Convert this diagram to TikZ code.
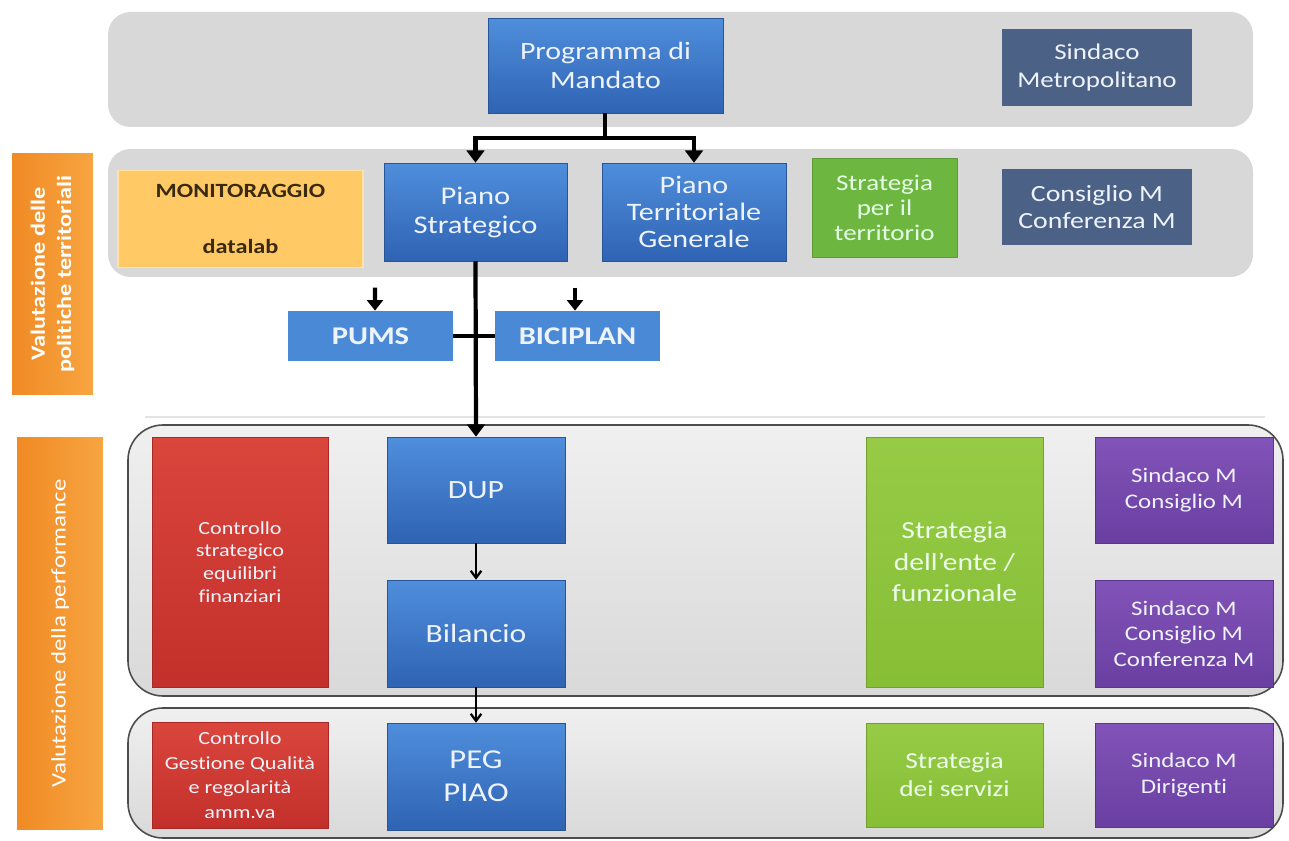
\documentclass[tikz,border=0pt]{standalone}
\usepackage{fontspec}
\setmainfont{Carlito}[FakeStretch=1.2, Ligatures=NoCommon]
\usetikzlibrary{arrows.meta,calc}
\definecolor{bandgray}{HTML}{D8D8D8}
\definecolor{blueT}{HTML}{4F8EDC}
\definecolor{blueB}{HTML}{2F63B3}
\definecolor{lightblue}{HTML}{4A89D6}
\definecolor{slate}{HTML}{4B6286}
\definecolor{greenA}{HTML}{6DB640}
\definecolor{greenT}{HTML}{97CB47}
\definecolor{greenB}{HTML}{86BE35}
\definecolor{redT}{HTML}{DA463C}
\definecolor{redB}{HTML}{C3302B}
\definecolor{purT}{HTML}{8253B8}
\definecolor{purB}{HTML}{6A3FA2}
\definecolor{orT}{HTML}{F7A541}
\definecolor{orB}{HTML}{F08A24}
\definecolor{monfill}{HTML}{FFC966}
\definecolor{monborder}{HTML}{FFE2A6}
\definecolor{montext}{HTML}{3A2A12}
\definecolor{paletext}{HTML}{EEF3FB}
\begin{document}
\begin{tikzpicture}[x=0.02cm,y=-0.02cm,
  box/.style={rectangle, inner sep=2pt, align=center, text=paletext},
  bluebox/.style={box, top color=blueT, bottom color=blueB, draw=blueB!85!black, line width=0.3pt},
  pbox/.style={box, fill=lightblue, font=\bfseries\fontsize{14.5}{17}\selectfont, minimum width=3.3cm, minimum height=1cm},
  slatebox/.style={box, fill=slate, minimum width=3.8cm},
  grnbox/.style={box, fill=greenA, draw=greenA!85!black, line width=0.3pt},
  ygbox/.style={box, top color=greenT, bottom color=greenB, draw=greenB!85!black, line width=0.3pt, minimum width=3.54cm},
  redbox/.style={box, top color=redT, bottom color=redB, draw=redB!85!black, line width=0.3pt, minimum width=3.52cm},
  purbox/.style={box, top color=purT, bottom color=purB, draw=purB!85!black, line width=0.3pt, minimum width=3.56cm},
  sidelabel/.style={rectangle, rotate=90, align=center, text=white, left color=orB, right color=orT},
  band/.style={fill=bandgray, rounded corners=0.45cm},
  obband/.style={top color=gray!12, bottom color=gray!30, draw=black!70, line width=0.9pt, rounded corners=0.7cm},
  thk/.style={line width=2.4pt, black},
  thkarrow/.style={thk, -{Triangle[width=10pt,length=7pt]}},
  thinarrow/.style={line width=1.3pt, black, -{Straight Barb[width=6pt,length=4pt]}}
]
\useasboundingbox (0,0) rectangle (1289,841);
% bands
\fill[band] (108,12) rectangle (1253,127);
\fill[band] (108,149) rectangle (1253,277);
\draw[gray!22, line width=1.2pt] (145,417) -- (1265,417);
\path[obband] (128,425) rectangle (1283,696);
\path[obband] (128,708) rectangle (1283,838);

% side labels
\node[sidelabel, minimum width=4.84cm, minimum height=1.62cm, font=\bfseries\fontsize{11.5}{15}\selectfont] (lab1) at (52.5,274) {Valutazione delle\\politiche territoriali};
\node[sidelabel, minimum width=7.86cm, minimum height=1.72cm, font=\fontsize{11.8}{15}\selectfont] (lab2) at (60,633.5) {Valutazione della performance};

% row 1
\node[bluebox, minimum width=4.7cm, minimum height=1.9cm, font=\fontsize{14.2}{16.5}\selectfont] (prog) at (605.5,65.5) {Programma di\\Mandato};
\node[slatebox, minimum height=1.54cm, font=\fontsize{12.8}{15.5}\selectfont] (sm) at (1097,67.5) {Sindaco\\Metropolitano};

% row 2
\node[box, fill=monfill, draw=monborder, line width=1pt, minimum width=4.9cm, minimum height=1.94cm, text=montext, font=\bfseries\fontsize{11.5}{14}\selectfont] (mon) at (240.5,219) {MONITORAGGIO\\[0.62cm]datalab};
\node[bluebox, minimum width=3.66cm, minimum height=1.96cm, font=\fontsize{14.5}{16.5}\selectfont] (ps) at (475.5,212) {Piano\\Strategico};
\node[bluebox, minimum width=3.68cm, minimum height=1.96cm, font=\fontsize{14.3}{15.4}\selectfont] (pt) at (694,212) {Piano\\Territoriale\\Generale};
\node[grnbox, minimum width=2.9cm, minimum height=1.98cm, font=\fontsize{12.8}{14.2}\selectfont, text=green!10!white] (spt) at (884.5,207.5) {Strategia\\per il\\territorio};
\node[slatebox, minimum height=1.52cm, font=\fontsize{13.2}{15.5}\selectfont] (cc) at (1097,207) {Consiglio M\\Conferenza M};

% PUMS / BICIPLAN
\node[pbox] (pums) at (370.5,336) {PUMS};
\node[pbox] (bici) at (577.5,336) {BICIPLAN};

% band 3
\node[redbox, minimum height=5cm, font=\fontsize{10.5}{13}\selectfont] (cse) at (240,562) {Controllo\\strategico\\equilibri\\finanziari};
\node[bluebox, minimum width=3.56cm, minimum height=2.12cm, font=\fontsize{15}{17}\selectfont] (dup) at (476,490) {DUP};
\node[bluebox, minimum width=3.56cm, minimum height=2.14cm, font=\fontsize{15}{17}\selectfont] (bil) at (476,633.5) {Bilancio};
\node[ygbox, minimum height=5cm, font=\fontsize{14}{18}\selectfont, text=green!8!white] (sde) at (954.5,562) {Strategia\\dell'ente /\\funzionale};
\node[purbox, minimum height=2.12cm, font=\fontsize{11.8}{14.5}\selectfont] (p1) at (1184,490) {Sindaco M\\Consiglio M};
\node[purbox, minimum height=2.14cm, font=\fontsize{11.8}{14.5}\selectfont] (p2) at (1184,633.5) {Sindaco M\\Consiglio M\\Conferenza M};

% band 4
\node[redbox, minimum height=2.12cm, font=\fontsize{10.5}{14}\selectfont] (cgq) at (240,775) {Controllo\\Gestione Qualità\\e regolarità\\amm.va};
\node[bluebox, minimum width=3.56cm, minimum height=2.14cm, font=\fontsize{15.5}{18.5}\selectfont] (peg) at (476,776.5) {PEG\\PIAO};
\node[ygbox, minimum height=2.08cm, font=\fontsize{13}{16}\selectfont, text=green!8!white] (sds) at (954.5,775) {Strategia\\dei servizi};
\node[purbox, minimum height=2.08cm, font=\fontsize{11.8}{14.5}\selectfont] (p3) at (1184,775) {Sindaco M\\Dirigenti};

% connectors
\coordinate (j) at (605,138);
\draw[thk] (prog.south -| j) -- (j);
\draw[thkarrow] (j) -| (ps.north);
\draw[thkarrow] (j) -| (pt.north);
\draw[thkarrow] (ps.south) -- (dup.north);
\draw[thk] (pums.east) -- (bici.west);
\draw[thkarrow, -{Triangle[width=9pt,length=6pt]}] ($(pums.north)+(4.5,-23)$) -- (pums.north -| 375,0);
\draw[thkarrow, -{Triangle[width=9pt,length=6pt]}] ($(bici.north)+(-2.5,-23)$) -- (bici.north -| 575,0);
\draw[thinarrow] (dup.south) -- (bil.north);
\draw[thinarrow] (bil.south) -- (peg.north);
\end{tikzpicture}
\end{document}
